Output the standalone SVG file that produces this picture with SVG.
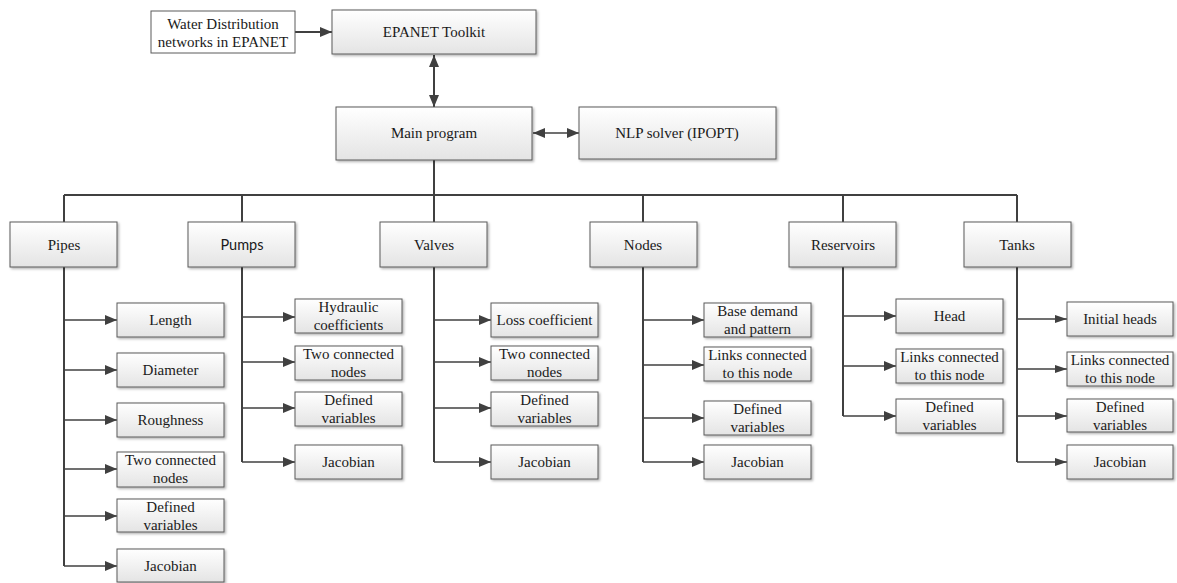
<svg xmlns="http://www.w3.org/2000/svg" width="1177" height="583" viewBox="0 0 1177 583">
  <defs>
    <linearGradient id="boxFill" x1="0" y1="0" x2="0" y2="1">
      <stop offset="0" stop-color="#ffffff"/>
      <stop offset="1" stop-color="#e4e4e4"/>
    </linearGradient>
    <filter id="shadow" x="-5%" y="-5%" width="115%" height="125%">
      <feDropShadow dx="1.5" dy="1.5" stdDeviation="0.8" flood-color="#000" flood-opacity="0.3"/>
    </filter>
    <marker id="arrow" viewBox="0 0 12 10" refX="12" refY="5" markerWidth="12" markerHeight="10" markerUnits="userSpaceOnUse" orient="auto-start-reverse">
      <path d="M0,0 L12,5 L0,10 Z" fill="#404040"/>
    </marker>
    <marker id="arrowSm" viewBox="0 0 12 8" refX="12" refY="4" markerWidth="12" markerHeight="8" markerUnits="userSpaceOnUse" orient="auto">
      <path d="M0,0 L12,4 L0,8 Z" fill="#404040"/>
    </marker>
  </defs>
  <style>
    .box { fill: url(#boxFill); stroke: #5a5a5a; stroke-width: 1; filter: url(#shadow); }
    .plain { fill: #ffffff; stroke: #5a5a5a; stroke-width: 1; }
    text { font-family: "Liberation Serif", "Times New Roman", serif; font-size: 15px; fill: #1a1a1a; text-anchor: middle; }
    .sans { font-family: Lato, "Open Sans", "Liberation Sans", sans-serif; font-size: 14.5px; }
    .trunk { fill: none; stroke: #404040; stroke-width: 2; }
    .branch { fill: none; stroke: #404040; stroke-width: 1.3; }
  </style>

  <rect width="1177" height="583" fill="#ffffff"/>

  <!-- connectors -->
  <g id="connectors">
    <line class="trunk" x1="295" y1="32" x2="332" y2="32" marker-end="url(#arrow)"/>
    <line class="trunk" x1="434" y1="55" x2="434" y2="107" marker-start="url(#arrow)" marker-end="url(#arrow)"/>
    <line class="branch" x1="533" y1="133" x2="579" y2="133" marker-start="url(#arrow)" marker-end="url(#arrow)"/>
    <!-- distribution bus -->
    <path class="trunk" d="M434,160 V195 M64,195 H1017 M64,195 V222 M242,195 V222 M434,195 V222 M643,195 V222 M843,195 V222 M1017,195 V222"/>
    <!-- category spines -->
    <path class="trunk" d="M64,267 V566 M242,267 V462 M434,267 V462 M643,267 V462 M843,267 V416 M1017,267 V462"/>
    <!-- pipes -->
    <g class="branch">
      <line x1="64" y1="320" x2="117" y2="320" marker-end="url(#arrow)"/>
      <line x1="64" y1="370" x2="117" y2="370" marker-end="url(#arrow)"/>
      <line x1="64" y1="420" x2="117" y2="420" marker-end="url(#arrow)"/>
      <line x1="64" y1="469" x2="117" y2="469" marker-end="url(#arrow)"/>
      <line x1="64" y1="516" x2="117" y2="516" marker-end="url(#arrow)"/>
      <line x1="64" y1="566" x2="117" y2="566" marker-end="url(#arrow)"/>
    </g>
    <!-- pumps -->
    <g class="branch">
      <line x1="242" y1="317" x2="295" y2="317" marker-end="url(#arrow)"/>
      <line x1="242" y1="362" x2="295" y2="362" marker-end="url(#arrow)"/>
      <line x1="242" y1="408" x2="295" y2="408" marker-end="url(#arrow)"/>
      <line x1="242" y1="462" x2="295" y2="462" marker-end="url(#arrow)"/>
    </g>
    <!-- valves -->
    <g class="branch">
      <line x1="434" y1="320" x2="491" y2="320" marker-end="url(#arrow)"/>
      <line x1="434" y1="362" x2="491" y2="362" marker-end="url(#arrow)"/>
      <line x1="434" y1="408" x2="491" y2="408" marker-end="url(#arrow)"/>
      <line x1="434" y1="462" x2="491" y2="462" marker-end="url(#arrow)"/>
    </g>
    <!-- nodes -->
    <g class="branch">
      <line x1="643" y1="320" x2="704" y2="320" marker-end="url(#arrow)"/>
      <line x1="643" y1="365" x2="704" y2="365" marker-end="url(#arrow)"/>
      <line x1="643" y1="418" x2="704" y2="418" marker-end="url(#arrow)"/>
      <line x1="643" y1="462" x2="704" y2="462" marker-end="url(#arrow)"/>
    </g>
    <!-- reservoirs -->
    <g class="branch">
      <line x1="843" y1="316" x2="896" y2="316" marker-end="url(#arrow)"/>
      <line x1="843" y1="366" x2="896" y2="366" marker-end="url(#arrow)"/>
      <line x1="843" y1="416" x2="896" y2="416" marker-end="url(#arrow)"/>
    </g>
    <!-- tanks -->
    <g class="branch">
      <line x1="1017" y1="319" x2="1067" y2="319" marker-end="url(#arrowSm)"/>
      <line x1="1017" y1="369" x2="1067" y2="369" marker-end="url(#arrowSm)"/>
      <line x1="1017" y1="416" x2="1067" y2="416" marker-end="url(#arrowSm)"/>
      <line x1="1017" y1="462" x2="1067" y2="462" marker-end="url(#arrowSm)"/>
    </g>
  </g>

  <!-- top level -->
  <g id="water-networks">
    <rect class="plain" x="151" y="11" width="144" height="42"/>
    <text x="223" y="29">Water Distribution</text>
    <text x="223" y="47">networks in EPANET</text>
  </g>
  <g id="epanet-toolkit">
    <rect class="box" x="332" y="10" width="204" height="44"/>
    <text x="434" y="37">EPANET Toolkit</text>
  </g>
  <g id="main-program">
    <rect class="box" x="336" y="107" width="196" height="53"/>
    <text x="434" y="138">Main program</text>
  </g>
  <g id="nlp-solver">
    <rect class="box" x="579" y="107" width="197" height="52"/>
    <text x="677" y="138">NLP solver (IPOPT)</text>
  </g>

  <!-- categories -->
  <g id="pipes">
    <rect class="box" x="10" y="222" width="107" height="45"/>
    <text x="64" y="250">Pipes</text>
  </g>
  <g id="pumps">
    <rect class="box" x="188" y="222" width="107" height="45"/>
    <text class="sans" x="242" y="250">Pumps</text>
  </g>
  <g id="valves">
    <rect class="box" x="380" y="222" width="107" height="45"/>
    <text x="434" y="250">Valves</text>
  </g>
  <g id="nodes">
    <rect class="box" x="590" y="222" width="107" height="45"/>
    <text x="643" y="250">Nodes</text>
  </g>
  <g id="reservoirs">
    <rect class="box" x="789" y="222" width="107" height="45"/>
    <text x="843" y="250">Reservoirs</text>
  </g>
  <g id="tanks">
    <rect class="box" x="964" y="222" width="107" height="45"/>
    <text x="1017" y="250">Tanks</text>
  </g>

  <!-- pipe attributes -->
  <g id="pipe-length">
    <rect class="box" x="117" y="303" width="107" height="34"/>
    <text x="170.5" y="325">Length</text>
  </g>
  <g id="pipe-diameter">
    <rect class="box" x="117" y="353" width="107" height="34"/>
    <text x="170.5" y="375">Diameter</text>
  </g>
  <g id="pipe-roughness">
    <rect class="box" x="117" y="403" width="107" height="34"/>
    <text x="170.5" y="425">Roughness</text>
  </g>
  <g id="pipe-nodes">
    <rect class="box" x="117" y="452" width="107" height="35"/>
    <text x="170.5" y="465">Two connected</text>
    <text x="170.5" y="483">nodes</text>
  </g>
  <g id="pipe-variables">
    <rect class="box" x="117" y="499" width="107" height="33"/>
    <text x="170.5" y="512">Defined</text>
    <text x="170.5" y="530">variables</text>
  </g>
  <g id="pipe-jacobian">
    <rect class="box" x="117" y="549" width="107" height="33"/>
    <text x="170.5" y="571">Jacobian</text>
  </g>

  <!-- pump attributes -->
  <g id="pump-coefficients">
    <rect class="box" x="295" y="299" width="107" height="34"/>
    <text x="348.5" y="312">Hydraulic</text>
    <text x="348.5" y="330">coefficients</text>
  </g>
  <g id="pump-nodes">
    <rect class="box" x="295" y="346" width="107" height="34"/>
    <text x="348.5" y="359">Two connected</text>
    <text x="348.5" y="377">nodes</text>
  </g>
  <g id="pump-variables">
    <rect class="box" x="295" y="392" width="107" height="34"/>
    <text x="348.5" y="405">Defined</text>
    <text x="348.5" y="423">variables</text>
  </g>
  <g id="pump-jacobian">
    <rect class="box" x="295" y="445" width="107" height="34"/>
    <text x="348.5" y="467">Jacobian</text>
  </g>

  <!-- valve attributes -->
  <g id="valve-loss">
    <rect class="box" x="491" y="303" width="107" height="34"/>
    <text x="544.5" y="325">Loss coefficient</text>
  </g>
  <g id="valve-nodes">
    <rect class="box" x="491" y="346" width="107" height="34"/>
    <text x="544.5" y="359">Two connected</text>
    <text x="544.5" y="377">nodes</text>
  </g>
  <g id="valve-variables">
    <rect class="box" x="491" y="392" width="107" height="34"/>
    <text x="544.5" y="405">Defined</text>
    <text x="544.5" y="423">variables</text>
  </g>
  <g id="valve-jacobian">
    <rect class="box" x="491" y="445" width="107" height="34"/>
    <text x="544.5" y="467">Jacobian</text>
  </g>

  <!-- node attributes -->
  <g id="node-demand">
    <rect class="box" x="704" y="303" width="107" height="34"/>
    <text x="757.5" y="316">Base demand</text>
    <text x="757.5" y="334">and pattern</text>
  </g>
  <g id="node-links">
    <rect class="box" x="704" y="347" width="107" height="34"/>
    <text x="757.5" y="360">Links connected</text>
    <text x="757.5" y="378">to this node</text>
  </g>
  <g id="node-variables">
    <rect class="box" x="704" y="401" width="107" height="34"/>
    <text x="757.5" y="414">Defined</text>
    <text x="757.5" y="432">variables</text>
  </g>
  <g id="node-jacobian">
    <rect class="box" x="704" y="445" width="107" height="34"/>
    <text x="757.5" y="467">Jacobian</text>
  </g>

  <!-- reservoir attributes -->
  <g id="reservoir-head">
    <rect class="box" x="896" y="299" width="107" height="34"/>
    <text x="949.5" y="321">Head</text>
  </g>
  <g id="reservoir-links">
    <rect class="box" x="896" y="349" width="107" height="34"/>
    <text x="949.5" y="362">Links connected</text>
    <text x="949.5" y="380">to this node</text>
  </g>
  <g id="reservoir-variables">
    <rect class="box" x="896" y="399" width="107" height="34"/>
    <text x="949.5" y="412">Defined</text>
    <text x="949.5" y="430">variables</text>
  </g>

  <!-- tank attributes -->
  <g id="tank-heads">
    <rect class="box" x="1067" y="302" width="106" height="34"/>
    <text x="1120" y="324">Initial heads</text>
  </g>
  <g id="tank-links">
    <rect class="box" x="1067" y="352" width="106" height="34"/>
    <text x="1120" y="365">Links connected</text>
    <text x="1120" y="383">to this node</text>
  </g>
  <g id="tank-variables">
    <rect class="box" x="1067" y="399" width="106" height="33"/>
    <text x="1120" y="412">Defined</text>
    <text x="1120" y="430">variables</text>
  </g>
  <g id="tank-jacobian">
    <rect class="box" x="1067" y="445" width="106" height="34"/>
    <text x="1120" y="467">Jacobian</text>
  </g>
</svg>
